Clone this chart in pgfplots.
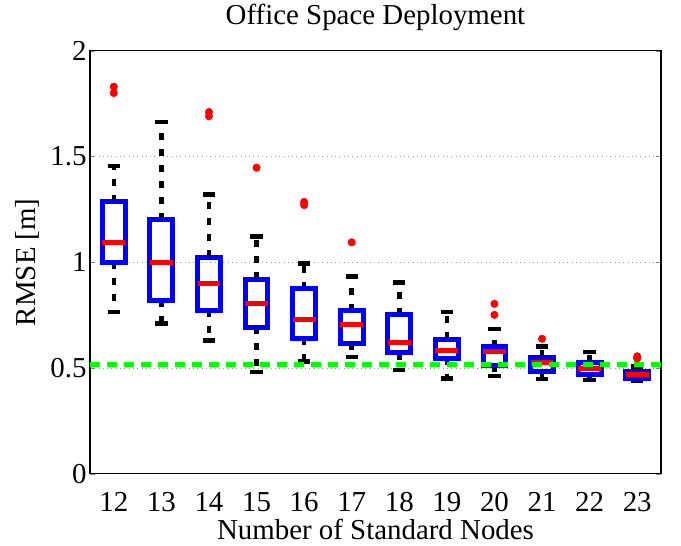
\documentclass[border=0pt]{standalone}
\usepackage{fontspec}
\setmainfont{Liberation Serif}
\usepackage{pgfplots}
\pgfplotsset{compat=1.18}
\usepgfplotslibrary{statistics}

\definecolor{boxblue}{RGB}{0,0,255}
\definecolor{medred}{RGB}{255,0,0}
\definecolor{refgreen}{RGB}{0,255,0}

\newcommand{\bigfont}{\fontsize{29}{34}\selectfont}

% dashed whisker line, solid cap
\pgfplotsset{
  boxplot/draw/lower whisker/.code={%
    \draw[/pgfplots/boxplot/every whisker/.try, dash pattern=on 7bp off 9bp]
      (boxplot box cs:\pgfplotsboxplotvalue{lower quartile},0.5)
      -- (boxplot box cs:\pgfplotsboxplotvalue{lower whisker},0.5);
    \draw[/pgfplots/boxplot/every whisker/.try]
      (boxplot whisker cs:\pgfplotsboxplotvalue{lower whisker},0)
      -- (boxplot whisker cs:\pgfplotsboxplotvalue{lower whisker},1);
  },
  boxplot/draw/upper whisker/.code={%
    \draw[/pgfplots/boxplot/every whisker/.try, dash pattern=on 7bp off 9bp]
      (boxplot box cs:\pgfplotsboxplotvalue{upper quartile},0.5)
      -- (boxplot box cs:\pgfplotsboxplotvalue{upper whisker},0.5);
    \draw[/pgfplots/boxplot/every whisker/.try]
      (boxplot whisker cs:\pgfplotsboxplotvalue{upper whisker},0)
      -- (boxplot whisker cs:\pgfplotsboxplotvalue{upper whisker},1);
  },
  bx/.style={solid, mark=*, mark options={draw=medred, fill=medred, solid}},
}

\begin{document}
\begin{tikzpicture}
\begin{axis}[
    name=ax,
    scale only axis,
    width=571bp, height=423bp,
    xmin=11.5, xmax=23.5,
    ymin=0, ymax=2,
    xtick={12,...,23},
    ytick={0,0.5,1,1.5,2},
    major x tick style={draw=none},
    tick align=inside,
    major tick length=5bp,
    ymajorgrids=true,
    grid style={dash pattern=on 0.8bp off 3.5bp, gray!80, line width=0.8bp},
    axis line style={line width=1.2bp},
    title={Office Space Deployment},
    xlabel={Number of Standard Nodes},
    ylabel={RMSE [m]},
    title style={font=\bigfont, at={(axis description cs:0.5,1)}, anchor=base, yshift=20bp},
    label style={font=\bigfont},
    tick label style={font=\bigfont},
    xticklabel style={anchor=base, yshift=-38bp},
    /pgf/number format/assume math mode=true,
    xlabel style={at={(axis description cs:0.5,-0.156)}, anchor=base},
    ylabel style={at={(axis description cs:-0.0963,0.5)}, anchor=base},
    boxplot/draw direction=y,
    boxplot/box extend=0.48,
    boxplot/whisker extend=0.26,
    boxplot/every box/.style={draw=boxblue, solid, line width=5bp},
    boxplot/every median/.style={draw=medred, solid, line width=5bp},
    boxplot/every whisker/.style={draw=black, solid, line width=4.5bp},
    mark size=3.8bp,
]
\addplot[bx, boxplot prepared={draw position=12, lower whisker=0.764, lower quartile=1.000, median=1.093, upper quartile=1.286, upper whisker=1.455}]
  coordinates {(12,1.80) (12,1.83)};
\addplot[bx, boxplot prepared={draw position=13, lower whisker=0.709, lower quartile=0.819, median=0.997, upper quartile=1.200, upper whisker=1.664}]
  coordinates {};
\addplot[bx, boxplot prepared={draw position=14, lower whisker=0.630, lower quartile=0.772, median=0.897, upper quartile=1.023, upper whisker=1.320}]
  coordinates {(14,1.69) (14,1.71)};
\addplot[bx, boxplot prepared={draw position=15, lower whisker=0.482, lower quartile=0.693, median=0.806, upper quartile=0.920, upper whisker=1.121}]
  coordinates {(15,1.447)};
\addplot[bx, boxplot prepared={draw position=16, lower whisker=0.530, lower quartile=0.641, median=0.727, upper quartile=0.874, upper whisker=0.995}]
  coordinates {(16,1.270) (16,1.285)};
\addplot[bx, boxplot prepared={draw position=17, lower whisker=0.551, lower quartile=0.617, median=0.707, upper quartile=0.770, upper whisker=0.932}]
  coordinates {(17,1.094)};
\addplot[bx, boxplot prepared={draw position=18, lower whisker=0.491, lower quartile=0.573, median=0.619, upper quartile=0.751, upper whisker=0.905}]
  coordinates {};
\addplot[bx, boxplot prepared={draw position=19, lower whisker=0.449, lower quartile=0.546, median=0.583, upper quartile=0.636, upper whisker=0.764}]
  coordinates {};
\addplot[bx, boxplot prepared={draw position=20, lower whisker=0.463, lower quartile=0.512, median=0.578, upper quartile=0.601, upper whisker=0.683}]
  coordinates {(20,0.751) (20,0.803)};
\addplot[bx, boxplot prepared={draw position=21, lower whisker=0.447, lower quartile=0.483, median=0.528, upper quartile=0.551, upper whisker=0.601}]
  coordinates {(21,0.638)};
\addplot[bx, boxplot prepared={draw position=22, lower whisker=0.444, lower quartile=0.468, median=0.496, upper quartile=0.528, upper whisker=0.575}]
  coordinates {};
\addplot[bx, boxplot prepared={draw position=23, lower whisker=0.441, lower quartile=0.449, median=0.469, upper quartile=0.483, upper whisker=0.507}]
  coordinates {(23,0.545) (23,0.555)};
% reference level
\addplot[refgreen, line width=5bp, dash pattern=on 10bp off 7bp] coordinates {(11.5,0.518) (23.5,0.518)};
\end{axis}
\path ([shift={(-90bp,-72bp)}]ax.south west) rectangle ([shift={(20bp,50.7bp)}]ax.north east);
\end{tikzpicture}
\end{document}
